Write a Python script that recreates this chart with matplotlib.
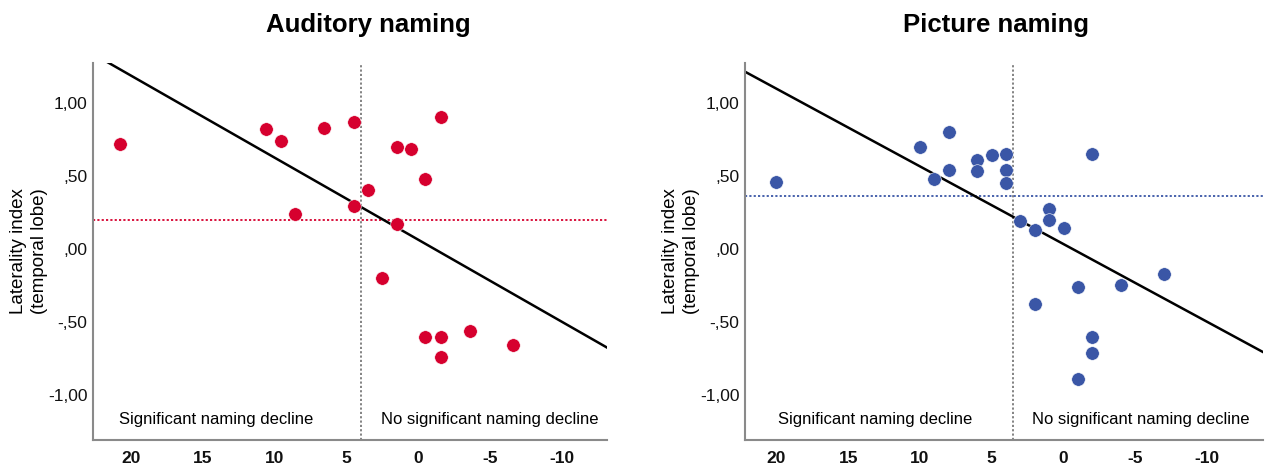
import numpy as np
import matplotlib
matplotlib.use("Agg")
import matplotlib.pyplot as plt

plt.rcParams["font.family"] = ["Liberation Sans", "DejaVu Sans"]

# naming change score (x) vs temporal-lobe laterality index (y)
aud_x = [20.8, 10.6, 9.6, 8.6, 6.6, 4.5, 4.5, 3.5, 1.5, 0.5, -0.5, -1.6,
         1.5, 2.5, -0.5, -1.6, -3.6, -1.6, -6.6]
aud_y = [0.72, 0.82, 0.74, 0.24, 0.83, 0.87, 0.29, 0.40, 0.70, 0.68, 0.48, 0.90,
         0.17, -0.20, -0.60, -0.60, -0.56, -0.74, -0.66]

pic_x = [20, 10, 8, 9, 8, 6, 6, 5, 4, 4, 4, 3, -2, 2, 1, 1, 0,
         -7, -4, -1, 2, -2, -2, -1]
pic_y = [0.46, 0.70, 0.80, 0.48, 0.54, 0.61, 0.53, 0.64, 0.65, 0.54, 0.45, 0.19,
         0.65, 0.13, 0.27, 0.20, 0.14, -0.17, -0.25, -0.26, -0.38, -0.60, -0.71, -0.89]

# cut-offs: decline threshold (vertical) and LI threshold (horizontal)
aud_cut_x, aud_cut_y = 4.0, 0.2
pic_cut_x, pic_cut_y = 3.5, 0.36

ytick_vals = [-1.0, -0.5, 0.0, 0.5, 1.0]
ytick_txt = ["-1,00", "-,50", ",00", ",50", "1,00"]
xtick_vals = [20, 15, 10, 5, 0, -5, -10]

red = "#D6002E"
blue = "#3A56A6"

fig = plt.figure(figsize=(12.68, 4.70), dpi=100)
ax1 = fig.add_axes([0.0733, 0.0632, 0.4054, 0.8034])
ax2 = fig.add_axes([0.5874, 0.0632, 0.4087, 0.8034])


def panel(ax, xs, ys, col, cut_x, cut_y, xlim, txt_x):
    ax.set_xlim(*xlim)
    ax.set_ylim(-1.31, 1.274)
    for s in ["top", "right"]:
        ax.spines[s].set_visible(False)
    for s in ["left", "bottom"]:
        ax.spines[s].set_color("#8a8a8a")
        ax.spines[s].set_linewidth(1.5)

    ax.axvline(cut_x, color="#7a7a7a", ls=(0, (1.2, 1.2)), lw=1.3, zorder=1)
    ax.axhline(cut_y, color=col, ls=(0, (1.2, 1.2)), lw=1.3, zorder=1)

    ax.scatter(xs, ys, s=95, color=col, edgecolors="white", linewidths=0.4, zorder=3)

    # linear fit across the whole axis
    k, b = np.polyfit(xs, ys, 1)
    fx = np.array(xlim)
    ax.plot(fx, k * fx + b, color="black", lw=1.8, zorder=2)

    ax.set_xticks(xtick_vals)
    ax.set_xticklabels([str(v) for v in xtick_vals], fontweight="bold", fontsize=12.5)
    ax.set_yticks(ytick_vals)
    ax.set_yticklabels(ytick_txt, fontsize=12.5)
    ax.tick_params(axis="x", length=0, pad=8, colors="#111111")
    ax.tick_params(axis="y", length=0, pad=4, colors="#111111")
    ax.set_ylabel("Laterality index\n(temporal lobe)", fontsize=13.5, linespacing=1.3,
                  labelpad=0)

    ax.text(txt_x[0], -1.17, "Significant naming decline", ha="center", va="center",
            fontsize=12)
    ax.text(txt_x[1], -1.17, "No significant naming decline", ha="center", va="center",
            fontsize=12)


panel(ax1, aud_x, aud_y, red, aud_cut_x, aud_cut_y, (22.67, -13.15), (14.06, -4.97))
panel(ax2, pic_x, pic_y, blue, pic_cut_x, pic_cut_y, (22.2, -13.9), (13.1, -5.4))

fig.text(368 / 1268, 0.947, "Auditory naming", ha="center", va="center",
         fontsize=18.5, fontweight="bold")
fig.text(996 / 1268, 0.947, "Picture naming", ha="center", va="center",
         fontsize=18.5, fontweight="bold")

fig.savefig("out.png", dpi=100)
